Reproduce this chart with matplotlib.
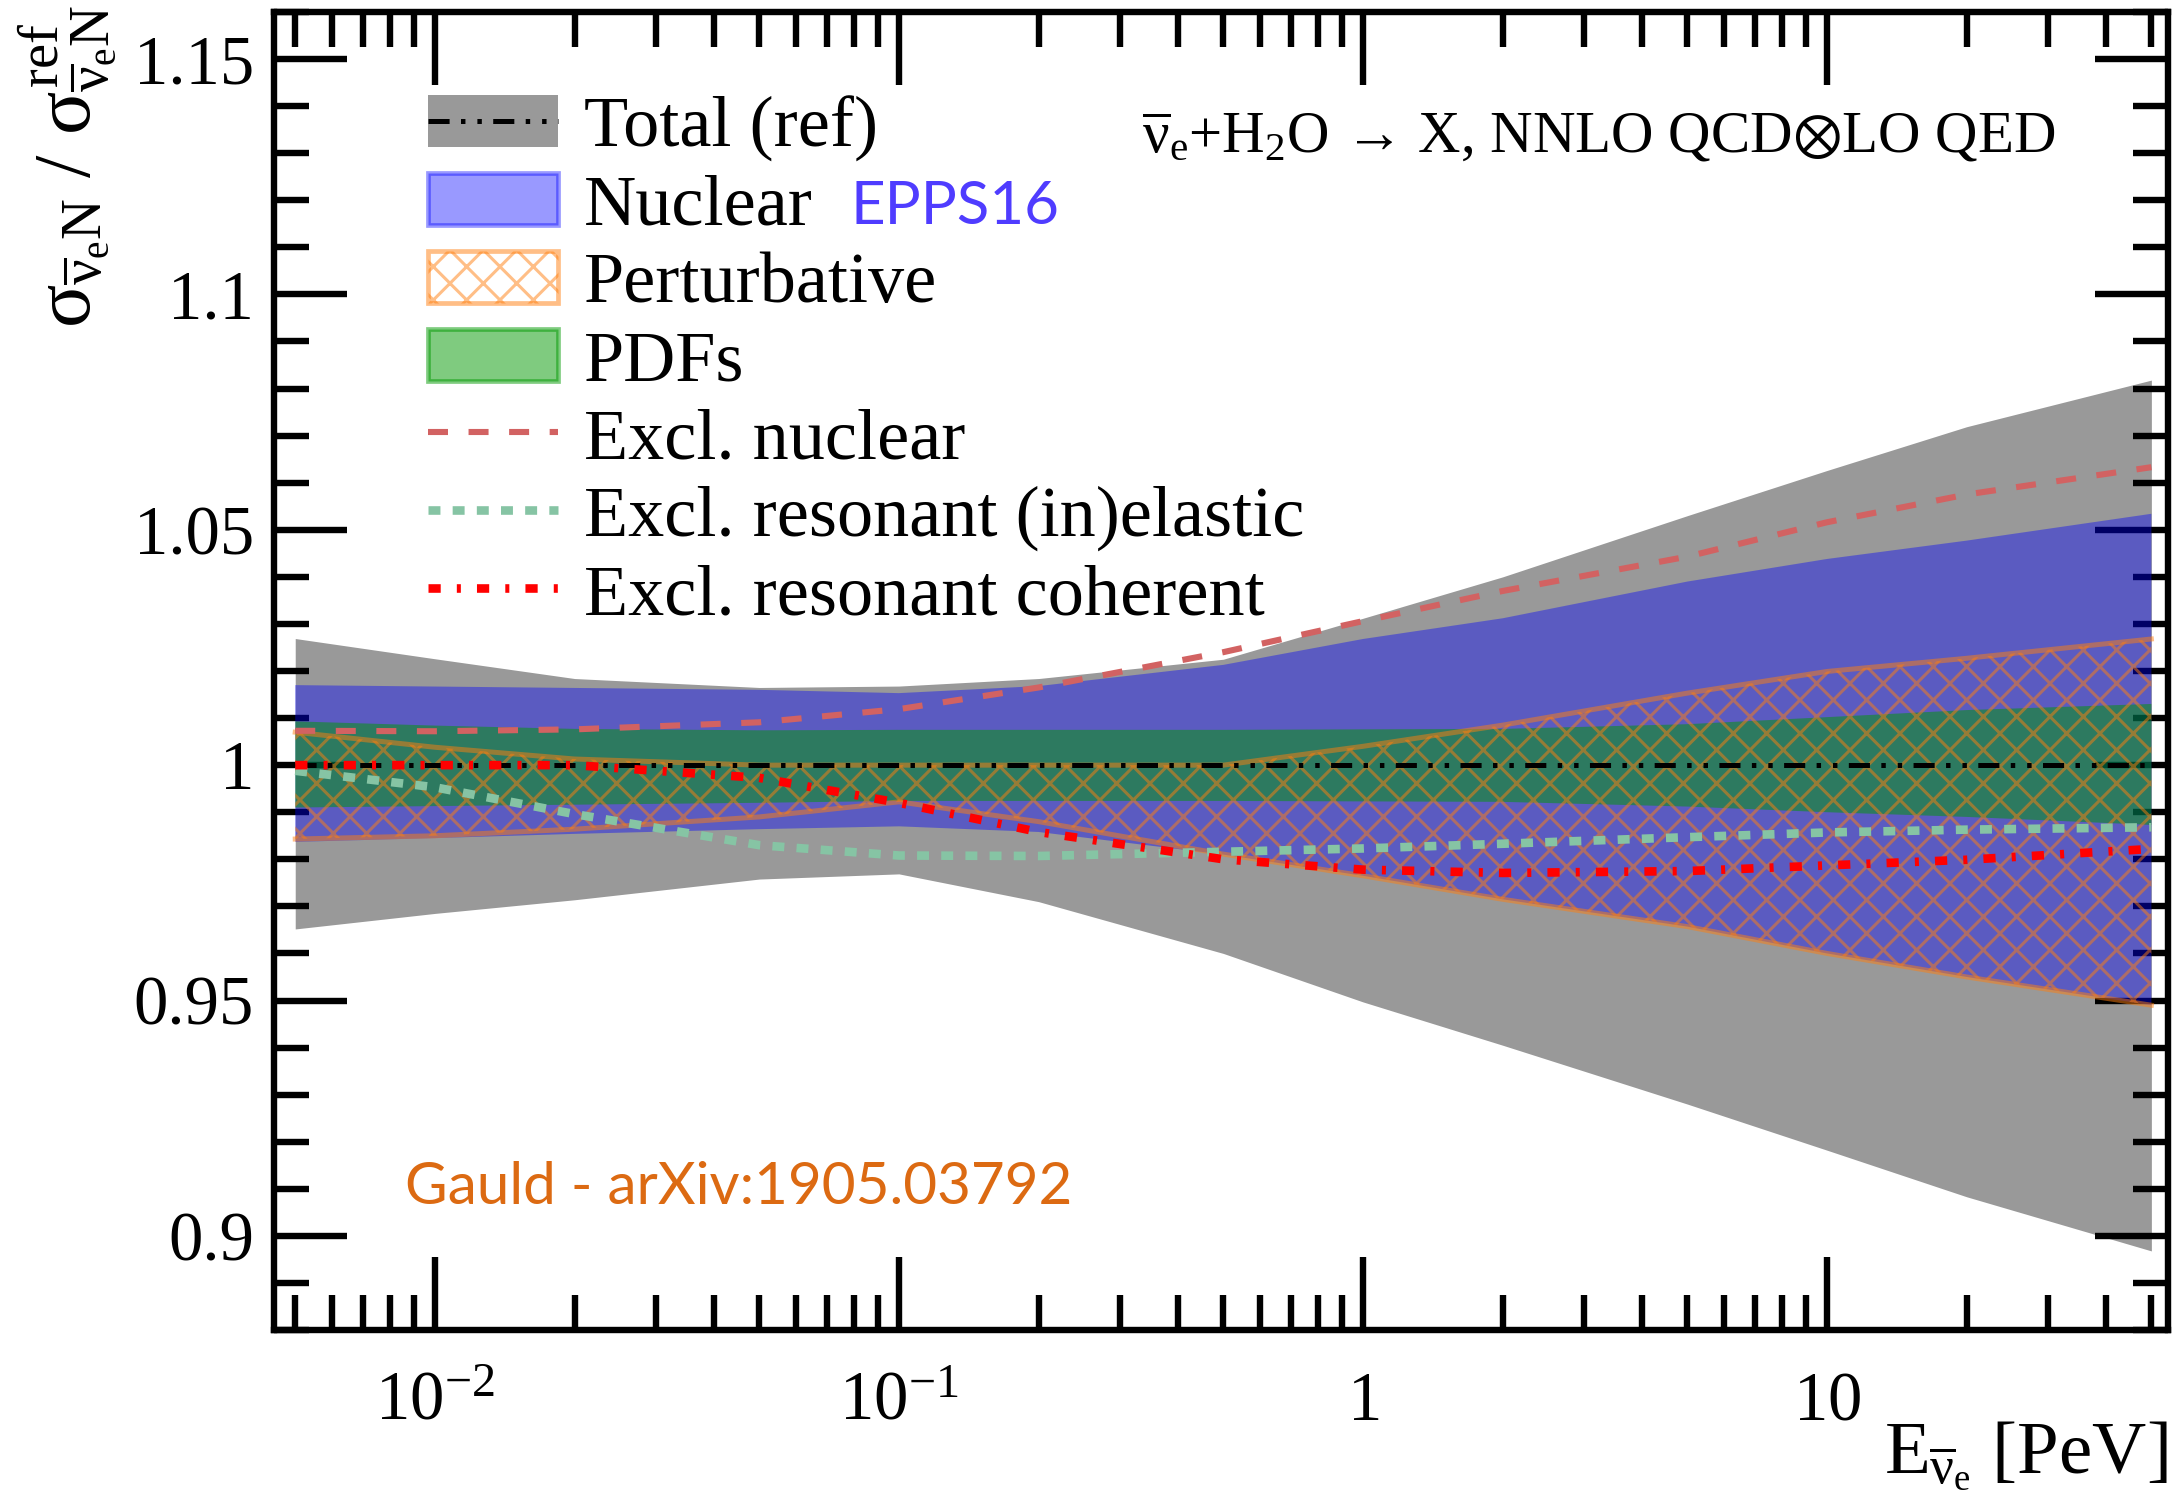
import numpy as np
import matplotlib
matplotlib.use('Agg')
import matplotlib.pyplot as plt
from matplotlib.patches import Patch
from matplotlib.lines import Line2D
from matplotlib.ticker import MultipleLocator, LogLocator, NullFormatter

plt.rcParams.update({
    'font.family': ['Liberation Serif', 'DejaVu Serif'],
    'mathtext.fontset': 'custom',
    'mathtext.rm': 'Liberation Serif',
    'mathtext.it': 'Liberation Serif',
    'mathtext.bf': 'Liberation Serif:bold',
    'mathtext.fallback': 'stix',
    'lines.scale_dashes': False,
    'hatch.linewidth': 1.1,
})

# ---------------- data ----------------
energy = [0.005, 0.01, 0.02, 0.05, 0.1, 0.2, 0.5, 1, 2, 5, 10, 20, 50]  # PeV

total_ref = [1.0, 1.0, 1.0, 1.0, 1.0, 1.0, 1.0, 1.0, 1.0, 1.0, 1.0, 1.0, 1.0]
total_lo = [0.9652, 0.9685, 0.9714, 0.9758, 0.9769, 0.9710, 0.9600, 0.9497, 0.9405, 0.9280, 0.9182, 0.9083, 0.8968]
total_hi = [1.0269, 1.0226, 1.0184, 1.0165, 1.0168, 1.0184, 1.0225, 1.0312, 1.0400, 1.0530, 1.0626, 1.0719, 1.0818]

nuclear_lo = [0.9837, 0.9845, 0.9854, 0.9864, 0.9870, 0.9858, 0.9810, 0.9765, 0.9715, 0.9657, 0.9600, 0.9550, 0.9490]
nuclear_hi = [1.0170, 1.0167, 1.0164, 1.0160, 1.0153, 1.0168, 1.0213, 1.0268, 1.0312, 1.0390, 1.0438, 1.0477, 1.0534]

pert_lo = [0.9843, 0.9850, 0.9864, 0.9890, 0.9922, 0.9880, 0.9811, 0.9765, 0.9715, 0.9657, 0.9600, 0.9550, 0.9490]
pert_hi = [1.0070, 1.0038, 1.0013, 1.0000, 1.0000, 1.0000, 1.0000, 1.0040, 1.0085, 1.0153, 1.0199, 1.0227, 1.0268]

pdf_lo = [0.9910, 0.9913, 0.9916, 0.9920, 0.9924, 0.9924, 0.9924, 0.9923, 0.9922, 0.9912, 0.9900, 0.9890, 0.9873]
pdf_hi = [1.0093, 1.0084, 1.0077, 1.0074, 1.0075, 1.0075, 1.0075, 1.0076, 1.0077, 1.0087, 1.0102, 1.0117, 1.0130]

excl_nuclear = [1.0073, 1.0072, 1.0076, 1.0091, 1.0119, 1.0165, 1.0240, 1.0306, 1.0370, 1.0443, 1.0516, 1.0575, 1.0633]
excl_res_inel = [0.9988, 0.9953, 0.9896, 0.9830, 0.9808, 0.9807, 0.9816, 0.9823, 0.9833, 0.9847, 0.9857, 0.9863, 0.9868]
excl_res_coh = [1.0000, 1.0000, 1.0000, 0.9973, 0.9920, 0.9858, 0.9800, 0.9778, 0.9771, 0.9775, 0.9787, 0.9799, 0.9822]

legend_labels = ['Total (ref)', 'Nuclear', 'Perturbative', 'PDFs', 'Excl. nuclear',
                 'Excl. resonant (in)elastic', 'Excl. resonant coherent']
xtick_vals = [0.01, 0.1, 1, 10]
xtick_labels = [r'$10^{-2}$', r'$10^{-1}$', r'$1$', r'$10$']
ytick_vals = [0.9, 0.95, 1.0, 1.05, 1.1, 1.15]
ytick_labels = ['0.9', '0.95', '1', '1.05', '1.1', '1.15']

# ---------------- styles ----------------
W, H, DPI = 2180, 1508, 200
gray = '#999999'
blue_a = (0.0, 0.0, 1.0, 0.4)
green_a = (0.0, 0.6, 0.0, 0.5)
orange_a = (1.0, 0.498, 0.055, 0.5)
dash_total = (7.6, 4.1, 1.6, 4.3, 1.6, 4.1)
dash_nuc = (7.2, 7.4)
dash_res = (4.3, 4.4)
dash_coh = (4.4, 5.8, 1.45, 5.8)
c_nuc = '#d26262'
c_res = '#86c4a4'
c_coh = '#ff0000'
LEG_FS = 26.0
px_per_em = LEG_FS * DPI / 72.0

fig = plt.figure(figsize=(W / DPI, H / DPI), dpi=DPI)
ax = fig.add_axes([274 / W, 1 - 1330 / H, (2168 - 274) / W, (1330 - 12) / H])

ax.fill_between(energy, total_lo, total_hi, color=gray, lw=0, zorder=1)
ax.fill_between(energy, nuclear_lo, nuclear_hi, facecolor=blue_a, lw=0, zorder=2)
ax.fill_between(energy, pdf_lo, pdf_hi, facecolor=green_a, lw=0, zorder=3)
ax.fill_between(energy, pert_lo, pert_hi, facecolor='none', edgecolor=orange_a,
                hatch='xx', lw=0, zorder=4)
ax.plot(energy, pert_hi, color=orange_a, lw=1.8, zorder=4)
ax.plot(energy, pert_lo, color=orange_a, lw=1.8, zorder=4)

ax.plot(energy, total_ref, color='k', lw=1.8, dashes=dash_total, zorder=5)
ax.plot(energy, excl_nuclear, color=c_nuc, lw=2.2, dashes=dash_nuc, zorder=6)
ax.plot(energy, excl_res_inel, color=c_res, lw=3.1, dashes=dash_res, zorder=7)
ax.plot(energy, excl_res_coh, color=c_coh, lw=3.1, dashes=dash_coh, zorder=8)

ax.set_xscale('log')
ax.set_xlim(0.0045, 54.3)
ax.set_ylim(0.88, 1.16)

ax.set_xticks(xtick_vals, labels=xtick_labels)
ax.xaxis.set_minor_locator(LogLocator(base=10, subs=np.arange(2, 10), numticks=30))
ax.xaxis.set_minor_formatter(NullFormatter())
ax.set_yticks(ytick_vals, labels=ytick_labels)
ax.yaxis.set_minor_locator(MultipleLocator(0.01))
ax.tick_params(which='both', direction='in', top=True, right=True, width=2.3)
ax.tick_params(which='major', length=26.3)
ax.tick_params(which='minor', length=12.6)
ax.tick_params(axis='x', which='major', pad=32.4, labelsize=24.75)
ax.tick_params(axis='y', which='major', pad=7.2, labelsize=24.75)
for s in ax.spines.values():
    s.set_linewidth(2.3)
for lab in ax.get_xticklabels():
    lab.set_verticalalignment('baseline')

ax.set_ylabel(r'$\sigma_{\overline{\nu}_{e}N}$ / $\sigma^{ref}_{\overline{\nu}_{e}N}$',
              fontsize=29, loc='top')
ax.yaxis.set_label_coords(-0.082, 1.005)
ax.set_xlabel(r'$E_{\overline{\nu}_{e}}$ [PeV]', fontsize=27, loc='right')
ax.xaxis.set_label_coords(1.0, -0.068)

handles = [
    (Patch(facecolor=gray, edgecolor='none'),
     Line2D([], [], color='k', lw=1.8, dashes=dash_total)),
    Patch(facecolor=blue_a, edgecolor=blue_a, lw=1.7),
    Patch(facecolor='none', edgecolor=orange_a, hatch='xx', lw=1.7),
    Patch(facecolor=green_a, edgecolor=green_a, lw=1.7),
    Line2D([], [], color=c_nuc, lw=2.2, dashes=dash_nuc),
    Line2D([], [], color=c_res, lw=3.1, dashes=dash_res),
    Line2D([], [], color=c_coh, lw=3.1, dashes=dash_coh),
]
ax.legend(handles, legend_labels, loc='upper left',
          bbox_to_anchor=((428 - 274) / 1894, (1330 - 95) / 1318),
          frameon=False, fontsize=LEG_FS, handlelength=130 / px_per_em,
          handleheight=53 / px_per_em, handletextpad=26 / px_per_em,
          labelspacing=0.16, borderpad=0, borderaxespad=0)

ax.text((851 - 274) / 1894, (1330 - 224) / 1318, 'EPPS16', transform=ax.transAxes,
        fontsize=21.6, color='#4f3cff', family='Lato', va='baseline')
ax.text((405 - 274) / 1894, (1330 - 1204) / 1318, 'Gauld - arXiv:1905.03792',
        transform=ax.transAxes, fontsize=21.0, color='#dc6a12', family='Lato',
        va='baseline')
ax.text((1142 - 274) / 1894, (1330 - 153) / 1318,
        r'$\overline{\nu}_{e}$+H$_{2}$O → X, NNLO QCD$\otimes$LO QED',
        transform=ax.transAxes, fontsize=21.2, va='baseline')

fig.savefig('out.png', dpi=DPI)
